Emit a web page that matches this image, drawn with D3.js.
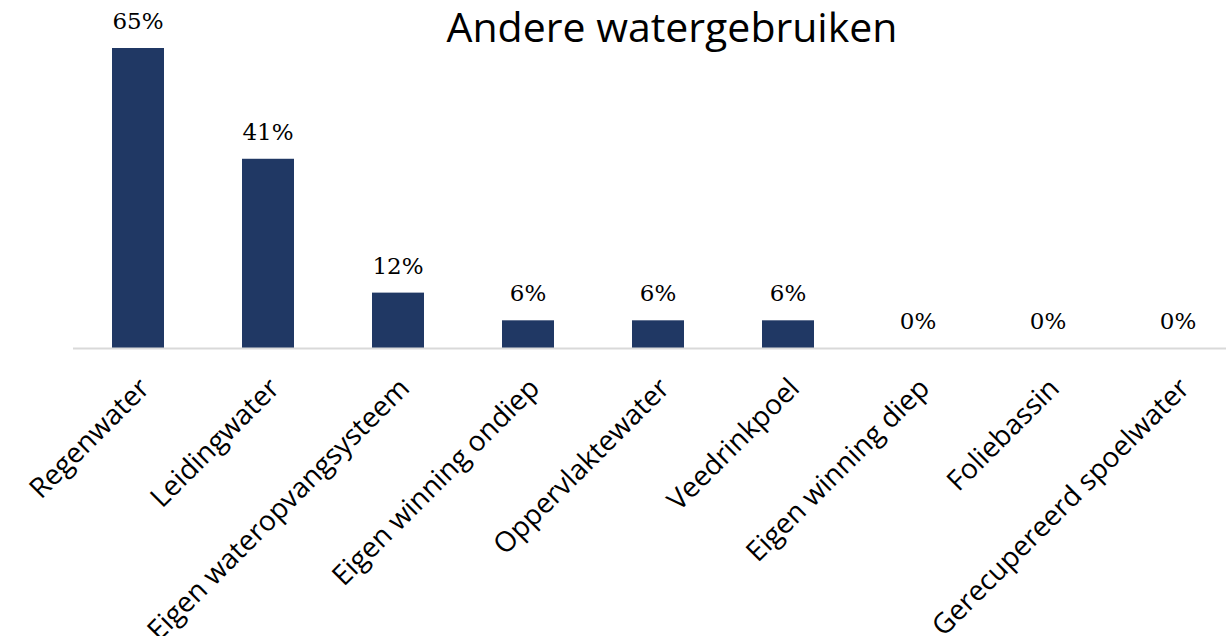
<!DOCTYPE html>
<html>
<head>
<meta charset="utf-8">
<script src="https://cdn.jsdelivr.net/npm/d3@7"></script>
<style>
  body { margin: 0; background: #fff; }
  svg { display: block; }
</style>
</head>
<body>
<svg width="1226" height="636"></svg>
<script>
// data
var categories = ["Regenwater", "Leidingwater", "Eigen wateropvangsysteem", "Eigen winning ondiep",
  "Oppervlaktewater", "Veedrinkpoel", "Eigen winning diep", "Foliebassin", "Gerecupereerd spoelwater"];
var values = [65, 41, 12, 6, 6, 6, 0, 0, 0];

var svg = d3.select("svg");

var x = d3.scaleBand()
    .domain(categories)
    .range([73, 1243])
    .paddingInner(0.6)
    .paddingOuter(0.3);

var y = d3.scaleLinear()
    .domain([0, 65])
    .range([348, 48]);

// title
svg.append("text")
    .attr("x", 672)
    .attr("y", 42)
    .attr("text-anchor", "middle")
    .attr("font-family", "Open Sans")
    .attr("font-size", 41)
    .attr("fill", "#000")
    .text("Andere watergebruiken");

// bars
svg.append("g")
  .selectAll("rect")
  .data(values)
  .enter().append("rect")
    .attr("x", function(d, i) { return x(categories[i]); })
    .attr("y", function(d) { return y(d); })
    .attr("width", x.bandwidth())
    .attr("height", function(d) { return y(0) - y(d); })
    .attr("fill", "#203864");

// value labels
svg.append("g")
  .selectAll("text")
  .data(values)
  .enter().append("text")
    .attr("x", function(d, i) { return x(categories[i]) + x.bandwidth() / 2; })
    .attr("y", function(d) { return y(d) - 19; })
    .attr("text-anchor", "middle")
    .attr("font-family", "DejaVu Serif")
    .attr("font-size", 23)
    .attr("fill", "#000")
    .text(function(d) { return d + "%"; });

// axis
var axis = svg.append("g")
    .attr("transform", "translate(0," + y(0) + ")")
    .call(d3.axisBottom(x).tickSize(0).tickPadding(0));

axis.select(".domain")
    .attr("d", "M73,0.5H1226")
    .attr("stroke", "#d9d9d9")
    .attr("stroke-width", 2);

axis.selectAll(".tick text")
    .attr("font-family", "Open Sans")
    .attr("font-size", 28)
    .attr("fill", "#000")
    .attr("text-anchor", "end")
    .attr("dy", null)
    .attr("transform", "translate(13,42) rotate(-45)");
</script>
</body>
</html>
